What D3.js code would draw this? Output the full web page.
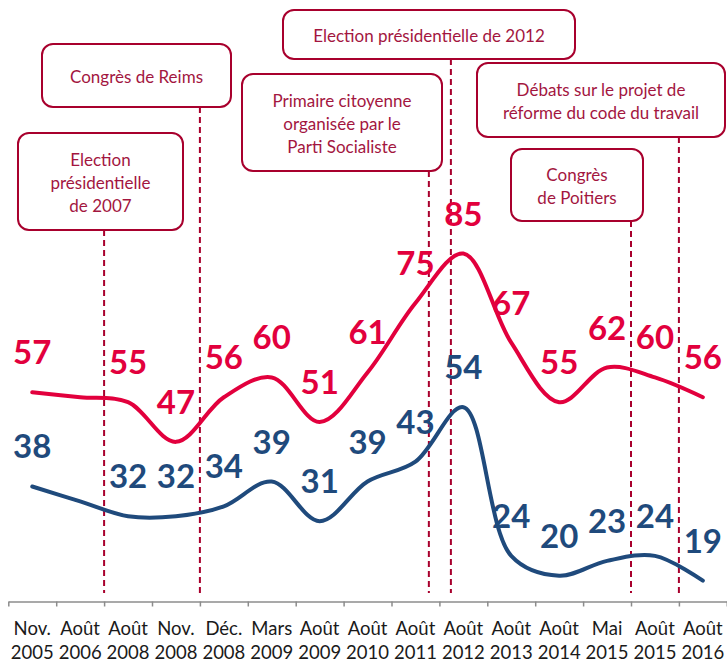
<!DOCTYPE html>
<html>
<head>
<meta charset="utf-8">
<script src="https://cdn.jsdelivr.net/npm/d3@7"></script>
<style>
  body { margin: 0; background: #fff; }
  text { font-family: Lato, "Open Sans", sans-serif; }
</style>
</head>
<body>
<div id="chart"></div>
<script>
// Categories (survey dates) and the two series
const categories = ["Nov. 2005", "Août 2006", "Août 2008", "Nov. 2008", "Déc. 2008", "Mars 2009",
                    "Août 2009", "Août 2010", "Août 2011", "Août 2012", "Août 2013", "Août 2014",
                    "Mai 2015", "Août 2015", "Août 2016"];
const redValues  = [57, 56, 55, 47, 56, 60, 51, 61, 75, 85, 67, 55, 62, 60, 56];
const blueValues = [38, 35, 32, 32, 34, 39, 31, 39, 43, 54, 24, 20, 23, 24, 19];
const unlabelled = ["Août 2006"];

// Events: text, category it falls in, fraction of that category's band
const eventLines = [
  ["Election", "présidentielle", "de 2007"],
  ["Congrès de Reims"],
  ["Primaire citoyenne", "organisée par le", "Parti Socialiste"],
  ["Election présidentielle de 2012"],
  ["Débats sur le projet de", "réforme du code du travail"],
  ["Congrès", "de Poitiers"]
];
const eventCats = ["Août 2008", "Déc. 2008", "Août 2011", "Août 2012", "Août 2016", "Août 2015"];
const eventFrac = [0, 0, 0.78, 0.24, 0, 0];

// Box layout for each event [x, y, w, h]
const boxes = [
  [18, 133, 165, 97],
  [42, 44, 189, 63],
  [242, 74, 200, 97],
  [283, 10, 292, 49],
  [477, 63, 248, 74],
  [511, 149, 132, 72]
];

const width = 727, height = 661;
const red = "#e2003d", blue = "#1f4a7c", dark = "#a8002d";

const svg = d3.select("#chart")
    .append("svg")
    .attr("width", width)
    .attr("height", height);

// X scale
const x = d3.scaleBand()
    .domain(categories)
    .range([8.3, 726.8])
    .padding(0);
const cx = c => x(c) + x.bandwidth() / 2;

// Y scale
const y = d3.scaleLinear()
    .domain([15, 85])
    .range([600.5, 253.5]);

// Axis ticks at band edges
const idx = d3.scaleLinear().domain([0, categories.length]).range(x.range());
svg.append("g")
    .attr("transform", "translate(0,601.5)")
    .call(d3.axisBottom(idx).ticks(categories.length).tickSize(5).tickSizeOuter(0).tickFormat(""))
    .call(g => g.selectAll("line, path").attr("stroke", "#8c8c8c").attr("stroke-width", 1.5));

// Axis labels, two lines each
const lab = svg.append("g")
    .attr("transform", "translate(0,601.5)")
    .call(d3.axisBottom(x).tickSize(0))
    .call(g => g.select(".domain").remove());
lab.selectAll(".tick text")
    .attr("fill", "#1a1a1a")
    .style("font-size", "18.5px")
    .attr("y", 0).attr("dy", null)
    .each(function(d) {
        const parts = d.split(" ");
        const t = d3.select(this).text(null);
        t.append("tspan").attr("x", 0).attr("y", 33).text(parts[0]);
        t.append("tspan").attr("x", 0).attr("y", 57).text(parts[1]);
    });

// Event boxes and dashed lines
eventLines.forEach((lines, i) => {
    const [bx, by, bw, bh] = boxes[i];
    const ex = x(eventCats[i]) + eventFrac[i] * x.bandwidth();
    svg.append("line")
        .attr("x1", ex).attr("x2", ex)
        .attr("y1", by + bh).attr("y2", 593)
        .attr("stroke", dark)
        .attr("stroke-width", 2)
        .attr("stroke-dasharray", "6,4");
    svg.append("rect")
        .attr("x", bx).attr("y", by)
        .attr("width", bw).attr("height", bh)
        .attr("rx", 11).attr("ry", 11)
        .attr("fill", "#fff")
        .attr("stroke", dark)
        .attr("stroke-width", 2);
    const mid = by + bh / 2 + 7.5;
    lines.forEach((l, j) => {
        svg.append("text")
            .attr("x", bx + bw / 2)
            .attr("y", mid + (j - (lines.length - 1) / 2) * 23)
            .attr("text-anchor", "middle")
            .attr("fill", "#a3163f")
            .style("font-size", "17px")
            .text(l);
    });
});

// Lines
const line = d3.line()
    .x(d => cx(d.c))
    .y(d => y(d.v))
    .curve(d3.curveCatmullRom.alpha(0.5));

[[redValues, red], [blueValues, blue]].forEach(([vals, col]) => {
    const pts = categories.map((c, i) => ({ c: c, v: vals[i] }));
    svg.append("path")
        .datum(pts)
        .attr("fill", "none")
        .attr("stroke", col)
        .attr("stroke-width", 4)
        .attr("stroke-linecap", "round")
        .attr("d", line);
    svg.selectAll(null)
        .data(pts.filter(d => !unlabelled.includes(d.c)))
        .enter().append("text")
        .attr("x", d => cx(d.c))
        .attr("y", d => y(d.v) - 28)
        .attr("text-anchor", "middle")
        .attr("fill", col)
        .style("font-size", "33px")
        .style("font-weight", "bold")
        .text(d => d.v);
});
</script>
</body>
</html>
